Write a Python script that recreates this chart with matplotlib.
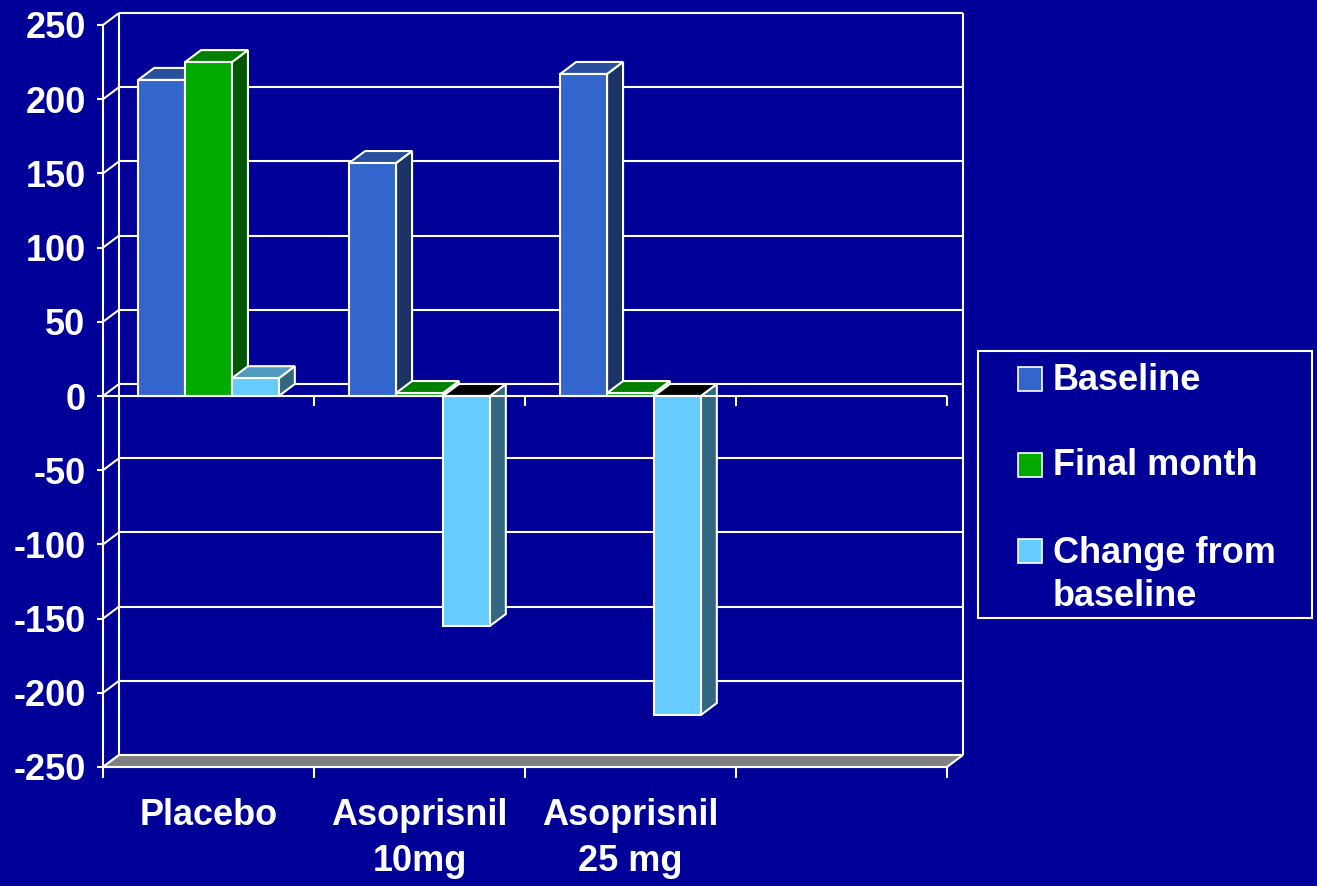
import numpy as np
import matplotlib
matplotlib.use("Agg")
import matplotlib.pyplot as plt
from matplotlib.patches import Polygon, Rectangle

# ---- data -------------------------------------------------------------
categories = ["Placebo", "Asoprisnil\n10mg", "Asoprisnil\n25 mg"]
series_names = ["Baseline", "Final month", "Change from\nbaseline"]
baseline = [213, 157, 217]
final_month = [225, 2, 2]
change = [12, -155, -215]
y_ticks = list(range(-250, 251, 50))

# ---- style ------------------------------------------------------------
BG = "#000099"
FRONT = ["#3366CC", "#00AA00", "#66CCFF"]
TOP = ["#2A4F9E", "#008000", "#509BC0"]
SIDE = ["#1C3366", "#005500", "#336680"]
FLOOR = "#808080"
EDGE = "white"
FONT = dict(family="Liberation Sans", weight="bold", size=26, color="white")

W, H = 1317, 886
DPI = 100
N_SLOTS = 4          # category slots on the x axis (last one is empty)
DEPTH_PX = (16, 12)  # oblique depth of the 3-D effect in pixels

fig = plt.figure(figsize=(W / DPI, H / DPI), dpi=DPI, facecolor=BG)
ax = fig.add_axes([103 / W, 1 - 767 / H, 844 / W, 742 / H])
ax.set_facecolor("none")
ax.set_xlim(0, N_SLOTS)
ax.set_ylim(-250, 250)

# convert the pixel depth into data units
inv = ax.transData.inverted()
o = ax.transData.transform((0, 0))
ddx, ddy = inv.transform(o + np.array(DEPTH_PX)) - inv.transform(o)
px_y = inv.transform(o + np.array([0, 1]))[1] - inv.transform(o)[1]

ymin, ymax = ax.get_ylim()
line_kw = dict(color=EDGE, lw=1.5, clip_on=False, solid_capstyle="butt")

# back wall: grid lines, top edge, side edges
for v in y_ticks:
    ax.plot([ddx, N_SLOTS + ddx], [v + ddy, v + ddy], zorder=1, **line_kw)
    ax.plot([0, ddx], [v, v + ddy], zorder=1, **line_kw)
ax.plot([ddx, ddx], [ymin + ddy, ymax + ddy], zorder=1, **line_kw)
ax.plot([N_SLOTS + ddx, N_SLOTS + ddx], [ymin + ddy, ymax + ddy], zorder=1, **line_kw)

# floor slab
ax.add_patch(Polygon([(0, ymin), (N_SLOTS, ymin), (N_SLOTS + ddx, ymin + ddy),
                      (ddx, ymin + ddy)], closed=True, facecolor=FLOOR,
                     edgecolor=EDGE, lw=1.5, zorder=1.5, clip_on=False))

# ---- 3-D columns ------------------------------------------------------
series = [baseline, final_month, change]
n_ser = len(series)
bar_w = 1 / (n_ser + 1.5)
gap = 0.75 * bar_w


def draw_column(x0, v, k, z):
    lo, hi = min(0, v), max(0, v)
    pkw = dict(edgecolor=EDGE, lw=1.5, zorder=z, clip_on=False, joinstyle="miter")
    side = [(x0 + bar_w, lo), (x0 + bar_w + ddx, lo + ddy),
            (x0 + bar_w + ddx, hi + ddy), (x0 + bar_w, hi)]
    ax.add_patch(Polygon(side, closed=True, facecolor=SIDE[k], **pkw))
    top = [(x0, hi), (x0 + bar_w, hi), (x0 + bar_w + ddx, hi + ddy), (x0 + ddx, hi + ddy)]
    ax.add_patch(Polygon(top, closed=True,
                         facecolor=TOP[k] if v >= 0 else "black", **pkw))
    ax.add_patch(Rectangle((x0, lo), bar_w, hi - lo, facecolor=FRONT[k], **pkw))


z = 2
for i in range(len(categories)):
    for k in range(n_ser):
        draw_column(i + gap + k * bar_w, series[k][i], k, z)
        z += 0.01

# front zero line with category ticks
ax.plot([0, N_SLOTS], [0, 0], zorder=3, **line_kw)
for x in range(1, N_SLOTS + 1):
    ax.plot([x, x], [0, -10 * px_y], zorder=3, **line_kw)

# ---- axes -------------------------------------------------------------
for s in ("top", "right"):
    ax.spines[s].set_visible(False)
for s in ("left", "bottom"):
    ax.spines[s].set_color(EDGE)
    ax.spines[s].set_linewidth(1.5)
    ax.spines[s].set_zorder(3)

ax.set_yticks(y_ticks)
ax.set_yticklabels([str(v) for v in y_ticks], fontdict=FONT)
ax.tick_params(axis="y", colors="white", length=4.5, width=1.5, pad=8)

ax.set_xticks(np.arange(len(categories)) + 0.5)
ax.set_xticklabels(categories, fontdict=FONT, linespacing=1.42)
ax.set_xticks(np.arange(N_SLOTS + 1), minor=True)
ax.tick_params(axis="x", which="major", length=0, pad=22, colors="white")
ax.tick_params(axis="x", which="minor", length=8, width=1.5, colors="white")

# ---- legend -----------------------------------------------------------
ft = fig.transFigure
fig.patches.append(Rectangle((978 / W, 1 - 618 / H), (1312 - 978) / W, (618 - 351) / H,
                             transform=ft, fill=False, edgecolor=EDGE, lw=1.5))
legend_text_y = [380, 466, 575]
legend_square_y = [379, 465, 551]
for k, name in enumerate(series_names):
    sq_y = legend_square_y[k]
    fig.patches.append(Rectangle((1018 / W, 1 - (sq_y + 12) / H), 24 / W, 24 / H,
                                 transform=ft, facecolor=FRONT[k], edgecolor=EDGE, lw=1.2))
    fig.text(1053 / W, 1 - legend_text_y[k] / H, name, ha="left", va="center",
             linespacing=1.3, **FONT)

fig.savefig("out.png", dpi=DPI, facecolor=BG)
